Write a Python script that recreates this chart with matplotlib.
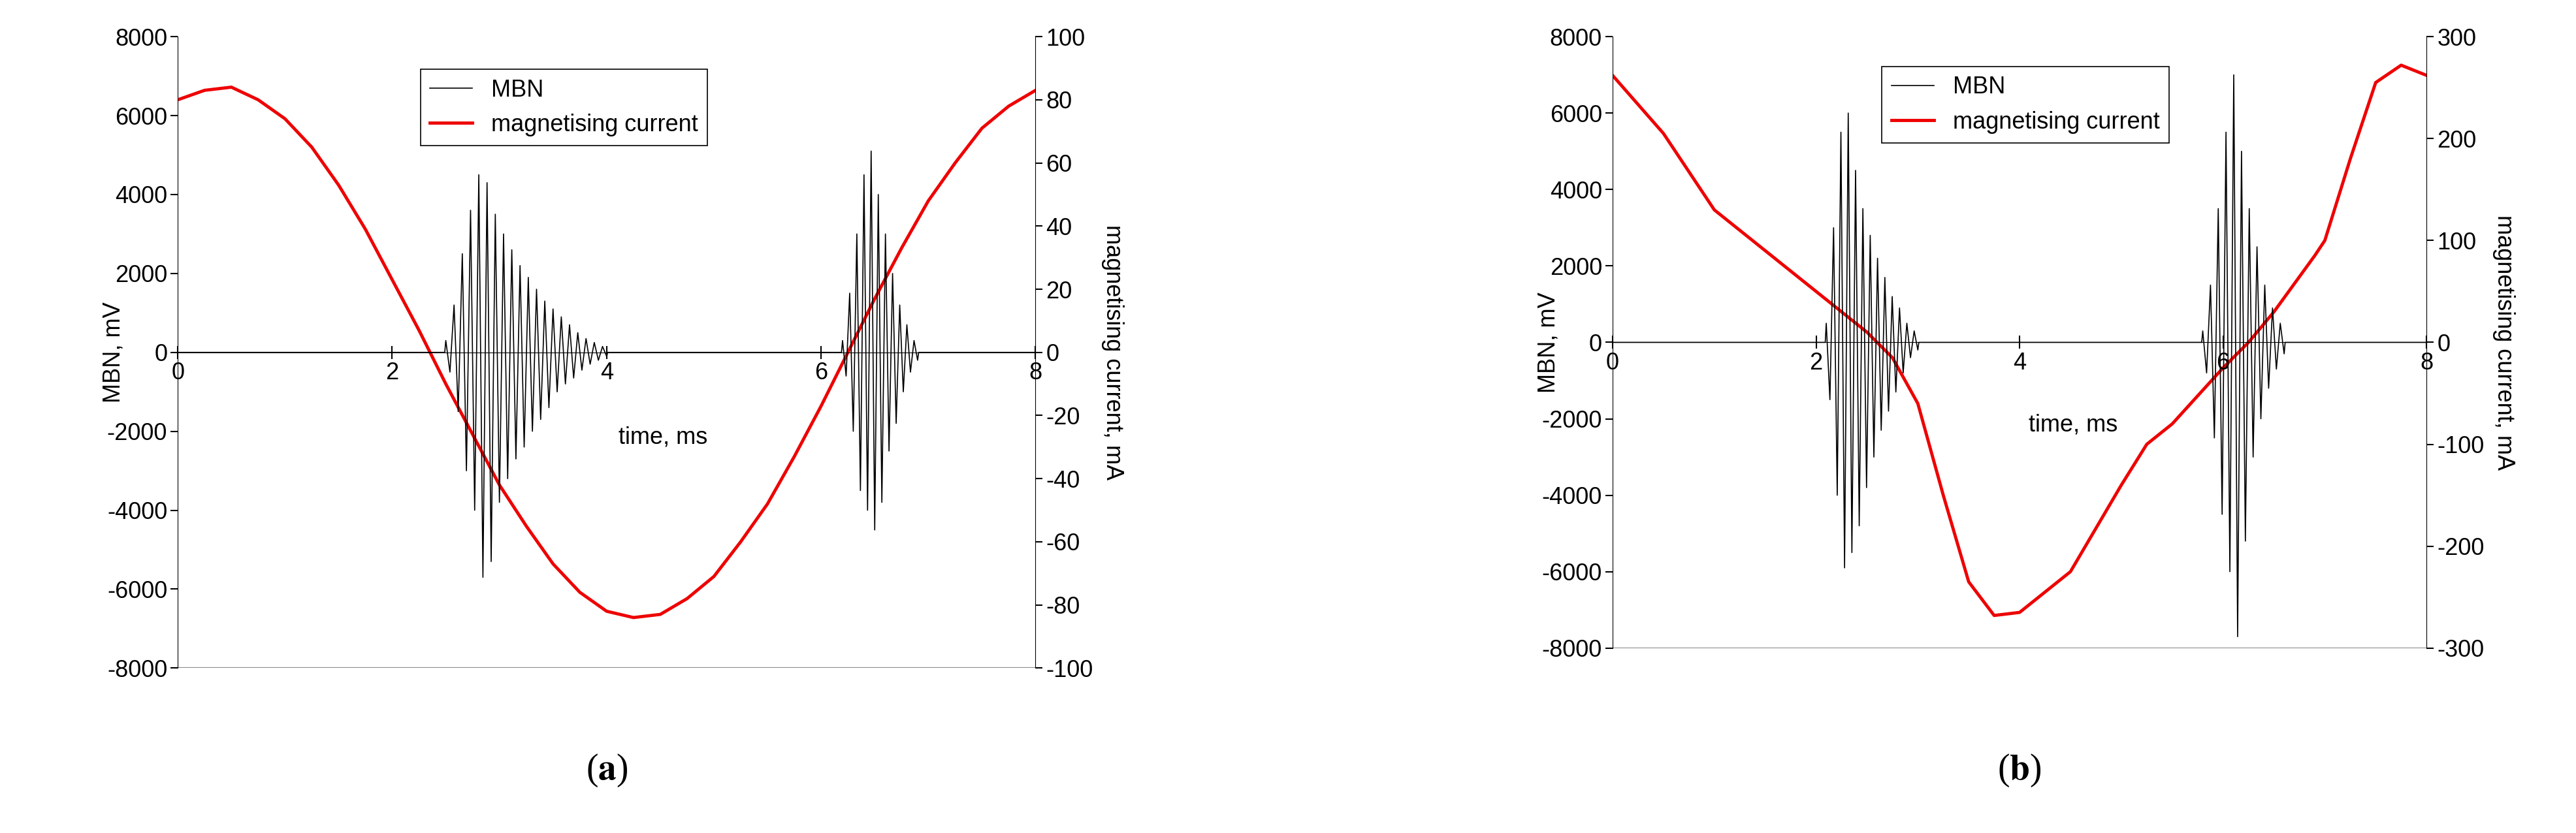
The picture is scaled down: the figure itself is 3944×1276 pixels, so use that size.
import matplotlib.pyplot as plt
import numpy as np

plt.rcParams['font.family'] = ['Liberation Sans', 'DejaVu Sans']
plt.rcParams['mathtext.fontset'] = 'stix'
plt.rcParams['axes.unicode_minus'] = False

# current waveforms (time in ms, current in mA)
t_a = [0, .25, .5, .75, 1, 1.25, 1.5, 1.75, 2, 2.25, 2.5, 2.75, 3, 3.25, 3.5, 3.75, 4, 4.25,
       4.5, 4.75, 5, 5.25, 5.5, 5.75, 6, 6.25, 6.5, 6.75, 7, 7.25, 7.5, 7.75, 8]
cur_a = [80, 83, 84, 80, 74, 65, 53, 39, 23, 7, -10, -26, -42, -55, -67, -76, -82, -84,
         -83, -78, -71, -60, -48, -33, -17, 0, 17, 33, 48, 60, 71, 78, 83]
t_b = [0, .5, 1.0, 1.25, 1.5, 2.0, 2.5, 2.75, 3.0, 3.25, 3.5, 3.75, 4.0, 4.5, 5.0, 5.25,
       5.5, 6.0, 6.25, 6.5, 6.9, 7.0, 7.25, 7.5, 7.75, 8.0]
cur_b = [262, 205, 130, 110, 90, 50, 10, -15, -60, -150, -235, -268, -265, -225, -140, -100,
         -80, -25, 0, 30, 85, 100, 180, 255, 272, 262]

# MBN bursts: (start ms, end ms, spike amplitudes in mV)
burst_a1 = (2.5, 4.0, [300, -500, 1200, -1500, 2500, -3000, 3600, -4000, 4500, -5700, 4300, -5300,
                       3500, -3800, 3000, -3200, 2600, -2700, 2200, -2400, 1900, -2000, 1600, -1700,
                       1300, -1400, 1100, -1000, 900, -800, 700, -650, 500, -450, 350, -300, 250,
                       -200, 150, -100])
burst_a2 = (6.2, 6.9, [300, -600, 1500, -2000, 3000, -3500, 4500, -4000, 5100, -4500, 4000, -3800,
                       3000, -2500, 2000, -1800, 1200, -1000, 700, -500, 300, -200])
burst_b1 = (2.1, 3.0, [500, -1500, 3000, -4000, 5500, -5900, 6000, -5500, 4500, -4800, 3500, -3800,
                       2800, -3000, 2200, -2300, 1700, -1800, 1200, -1300, 900, -800, 500, -400,
                       300, -200])
burst_b2 = (5.8, 6.6, [300, -800, 1500, -2500, 3500, -4500, 5500, -6000, 7000, -7700, 5000, -5200,
                       3500, -3000, 2500, -2000, 1500, -1200, 900, -700, 500, -300])


def mbn_trace(bursts):
    ts, vs = [0.0], [0.0]
    for start, end, amps in bursts:
        ts.append(start - 0.01)
        vs.append(0.0)
        ts += list(np.linspace(start, end, len(amps)))
        vs += amps
        ts.append(end + 0.01)
        vs.append(0.0)
    ts.append(8.0)
    vs.append(0.0)
    return ts, vs


fig = plt.figure(figsize=(39.44, 12.76), dpi=100)
panels = [
    ([0.069, 0.198, 0.333, 0.758], t_a, cur_a, [burst_a1, burst_a2], 100, 20, (0.283, 0.948), 'a'),
    ([0.626, 0.222, 0.316, 0.734], t_b, cur_b, [burst_b1, burst_b2], 300, 100, (0.331, 0.951), 'b'),
]
fs = 26
for rect, tc, cc, bursts, imax, istep, legpos, letter in panels:
    ax = fig.add_axes(rect)
    ts, vs = mbn_trace(bursts)
    l1, = ax.plot(ts, vs, color='black', lw=1.2, label='MBN')
    ax.set_xlim(0, 8)
    ax.set_ylim(-8000, 8000)
    ax.set_yticks(range(-8000, 8001, 2000))
    ax.set_xticks([0, 2, 4, 6, 8])
    ax.spines['bottom'].set_position(('data', 0))
    ax.spines['top'].set_visible(False)
    ax.spines['right'].set_visible(False)
    ax.axhline(-8000, color='#888888', lw=1.5)
    ax.tick_params(labelsize=fs, width=1.5, length=8)
    ax.tick_params(axis='x', direction='inout', length=14)
    ax.set_ylabel('MBN, mV', fontsize=fs, labelpad=-20)
    ax.text(0.566, 0.365, 'time, ms', transform=ax.transAxes, fontsize=fs, ha='center', va='center')
    ax2 = ax.twinx()
    l2, = ax2.plot(tc, cc, color='#ee0000', lw=3.5, label='magnetising current')
    ax2.set_ylim(-imax, imax)
    ax2.set_yticks(range(-imax, imax + 1, istep))
    for s in ['top', 'bottom', 'left']:
        ax2.spines[s].set_visible(False)
    ax2.tick_params(labelsize=fs, width=1.5, length=8)
    ax2.set_ylabel('magnetising current, mA', fontsize=fs, rotation=270, labelpad=34)
    leg = ax.legend([l1, l2], ['MBN', 'magnetising current'], loc='upper left',
                    bbox_to_anchor=legpos, fontsize=fs, fancybox=False, edgecolor='black',
                    framealpha=1, borderaxespad=0, handlelength=1.8)
    leg.get_frame().set_linewidth(1.2)
    ax.set_zorder(ax2.get_zorder() + 1)
    ax.patch.set_visible(False)
    cx = rect[0] + rect[2] / 2
    fig.text(cx, 0.075, r'($\mathbf{' + letter + r'}$)', fontsize=40, ha='center', va='center',
             family='Liberation Serif')

fig.savefig('out.png')
